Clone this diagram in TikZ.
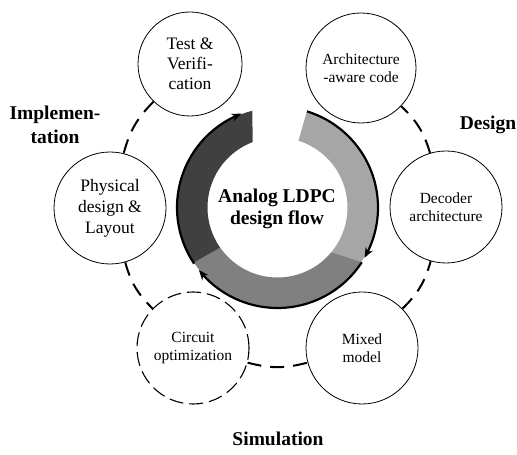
\documentclass[tikz,border=0pt]{standalone}
\usepackage{fontspec}
\setmainfont{Liberation Serif}
\usetikzlibrary{calc,arrows.meta,bending}

\definecolor{segLight}{RGB}{166,166,166}
\definecolor{segMid}{RGB}{128,128,128}
\definecolor{segDark}{RGB}{64,64,64}

\tikzset{
  stage/.style={circle, draw=black, line width=0.8pt, fill=white, inner sep=0pt,
    minimum size=112pt, align=center, font=\fontsize{15.5pt}{18.5pt}\selectfont},
  bigstage/.style={stage, font=\fontsize{17.5pt}{20pt}\selectfont},
  dashstage/.style={stage, dash pattern=on 14pt off 6pt, line width=1.1pt},
  link/.style={line width=2pt, dash pattern=on 14pt off 9pt},
  flowarrow/.style={line width=2.2pt, -{Stealth[length=10pt,width=8pt,flex]}},
  phase/.style={align=center, font=\fontsize{19.5pt}{24pt}\selectfont\bfseries}
}

\begin{document}
\begin{tikzpicture}[x=1pt,y=1pt]
\useasboundingbox (0,0) rectangle (517,455);

\coordinate (C) at (277.5,247.5);

% coloured ring, three segments
\fill[segLight] ($(C)+(73:100)$) arc[start angle=73, end angle=-33, radius=100pt]
  -- ($(C)+(-39.5:70)$) arc[start angle=-39.5, end angle=72.6, radius=70pt] -- cycle;
\fill[segMid] ($(C)+(-33:100)$) arc[start angle=-33, end angle=-146.6, radius=100pt]
  -- ($(C)+(-145:70)$) arc[start angle=-145, end angle=-39.5, radius=70pt] -- cycle;
\fill[segDark] ($(C)+(-146.6:100)$) arc[start angle=-146.6, end angle=-255.5, radius=100pt]
  -- ($(C)+(-249.1:70)$) arc[start angle=-249.1, end angle=-145, radius=70pt] -- cycle;

% flow arrows along the outer rim
\draw[flowarrow] ($(C)+(73:100.5)$) arc[start angle=73, end angle=-30, radius=100.5pt];
\draw[flowarrow] ($(C)+(-33:100.5)$) arc[start angle=-33, end angle=-141.5, radius=100.5pt];
\draw[flowarrow] ($(C)+(-146:100.5)$) arc[start angle=-146, end angle=-249, radius=100.5pt];

\node[align=center, font=\fontsize{19.5pt}{22pt}\selectfont\bfseries] (title) at (277,246)
  {Analog LDPC\\design flow};

% stages
\node[bigstage, minimum size=104pt] (test) at (190,391) {Test \&\\Verifi-\\cation};
\node[stage, minimum size=110pt] (arch) at (361,387) {Architecture\\-aware code};
\node[stage] (dec) at (446,248) {Decoder\\architecture};
\node[stage] (mixed) at (362,107) {Mixed\\model};
\node[dashstage] (circ) at (193,107) {Circuit\\optimization};
\node[bigstage, font=\fontsize{17.5pt}{21pt}\selectfont] (phys) at (110,247) {Physical\\design \&\\Layout};

% outer dashed links
\draw[link] (test) to[bend right=15] (phys);
\draw[link] (phys) to[bend right=15] (circ);
\draw[link] (circ) to[bend right=15] (mixed);
\draw[link] (mixed) to[bend right=15] (dec);
\draw[link] (dec) to[bend right=15] (arch);

% phase labels
\node[phase] (impl) at (55,330) {Implemen-\\tation};
\node[phase] (design) at (488,330) {Design};
\node[phase] (sim) at (278,16) {Simulation};
\end{tikzpicture}
\end{document}
